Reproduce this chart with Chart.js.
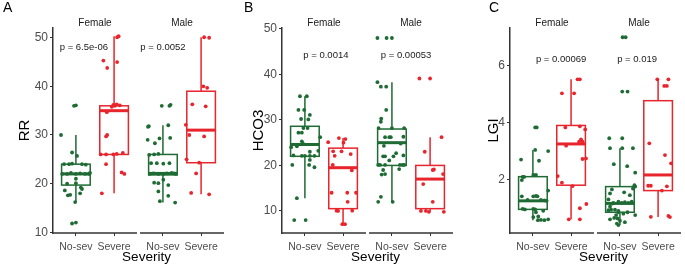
<!DOCTYPE html>
<html>
<head>
<meta charset="utf-8">
<script src="https://cdn.jsdelivr.net/npm/chart.js@4.4.0/dist/chart.umd.min.js"></script>
<style>
  html, body { margin: 0; padding: 0; background: #fff; }
  #fig { position: relative; width: 685px; height: 265px; }
  canvas { position: absolute; top: 0; }
</style>
</head>
<body>
<div id="fig">
  <canvas id="painelA" width="228" height="265" style="left:0px"></canvas>
  <canvas id="painelB" width="228" height="265" style="left:228px"></canvas>
  <canvas id="painelC" width="229" height="265" style="left:456px"></canvas>
</div>
<script>
// --- Dados ---
const categorias = ['No-sev', 'Severe', 'No-sev', 'Severe'];
const posicoesX = [1, 2, 3.28, 4.28];      // Female: 1,2 / Male: 3.28,4.28
const facetas = ['Female', 'Male'];

// Painel A - RR
const rrTicks = [10, 20, 30, 40, 50];
const rrFemNoSev = [36, 36.1, 30, 26.4, 25.7, 24, 24, 24.1, 24, 23.9, 22, 22, 22.2, 22, 22.1, 22, 22, 22.2, 21, 20, 20.1, 19.2, 18.9, 18.6, 17.7, 17.6, 18, 16.2, 11.8, 12];
const rrFemNoSevJit = [-0.05, 0.0, -0.39, -0.10, 0.03, -0.31, -0.18, -0.10, 0.16, 0.26, -0.36, -0.23, -0.13, 0.0, 0.11, 0.24, 0.34, 0.37, 0.0, -0.23, 0.0, 0.13, 0.16, -0.29, -0.15, -0.21, 0.11, -0.02, -0.10, 0.0];
const rrFemSev = [50.1, 50.3, 45.3, 45.0, 43.8, 36.2, 36, 36.3, 36.1, 35.8, 34.7, 30, 29.7, 26, 26, 26, 26.1, 26.3, 24, 22.3, 22, 18];
const rrFemSevJit = [0.08, 0.12, -0.28, 0.08, -0.18, -0.02, 0.02, 0.07, 0.15, -0.06, -0.19, -0.18, -0.21, -0.35, -0.21, -0.02, 0.07, 0.23, -0.21, 0.20, 0.27, -0.32];
const rrMascNoSev = [36, 36, 36.2, 32, 31.7, 31.8, 29.3, 29.4, 29, 28.3, 25.9, 26, 26.1, 24.2, 24.2, 24.1, 24.2, 22, 22.1, 22, 22, 22.1, 22.2, 22.1, 22, 20.2, 20.1, 20.8, 19.7, 18.4, 17.5, 16.4, 16.1];
const rrMascNoSevJit = [-0.03, 0.17, 0.20, 0.14, -0.39, -0.37, -0.09, 0.19, -0.40, -0.21, -0.36, -0.23, -0.12, -0.31, -0.16, 0.01, 0.17, -0.34, -0.25, -0.12, 0.01, 0.10, 0.23, 0.30, 0.34, -0.23, -0.12, 0.01, 0.14, -0.12, 0.14, -0.08, 0.32];
const rrMascSev = [50.1, 50, 40, 39.7, 36.3, 35.9, 32.1, 30, 29.7, 25, 24.3, 22.1, 18.1, 17.8];
const rrMascSevJit = [0.08, 0.21, 0.06, 0.16, -0.23, 0.12, -0.40, -0.31, 0.08, -0.38, -0.05, -0.13, -0.26, 0.21];
// [min bigode, Q1, mediana, Q3, max bigode]
const rrCaixas = [[16.2, 19.7, 22, 24, 30], [18, 26, 35, 36, 50.3], [16.1, 21.8, 22.1, 26, 32], [17.8, 24.3, 31, 39, 50.1]];
const rrP = ['p = 6.5e-06', 'p = 0.0052'];

// Painel B - HCO3
const hcoTicks = [10, 20, 30, 40, 50];
const hcoFemNoSev = [35.2, 35.2, 32.2, 32.2, 31.1, 30.1, 30.2, 27.2, 27.2, 28.2, 28.2, 26.2, 25.3, 24, 24.2, 24.8, 23.2, 23, 22.2, 22.1, 22.1, 22.1, 22.1, 21.2, 20.1, 20.1, 19.6, 12.8, 8, 8];
const hcoFemNoSevJit = [-0.13, 0.05, -0.17, -0.02, 0.13, 0.09, -0.10, -0.17, -0.08, -0.04, 0.07, 0.40, -0.08, -0.36, -0.21, -0.05, 0.35, 0.13, -0.30, -0.08, 0.0, 0.13, 0.25, 0.13, 0.11, -0.33, 0.25, -0.21, -0.28, 0.02];
const hcoFemSev = [25.1, 26, 25, 25.8, 23.1, 23.1, 22.1, 22.5, 20.1, 18.9, 14, 14, 14, 12, 10.05, 10, 10.05, 7.1, 7.1];
const hcoFemSevJit = [-0.39, -0.11, 0.01, 0.06, -0.26, -0.04, -0.22, 0.20, -0.27, 0.23, -0.30, 0.11, 0.34, 0.12, -0.17, -0.13, 0.24, -0.02, 0.05];
const hcoMascNoSev = [48, 48, 48, 38.3, 37.3, 37.3, 32.2, 30.3, 29.6, 28.2, 28.2, 28.2, 26.2, 26.2, 26.2, 26.3, 24.3, 24.8, 22.7, 22, 22, 22, 22.2, 21.1, 20.1, 20.1, 20.1, 20.1, 20.1, 20.1, 19, 18.1, 18, 19.2, 13.1, 12, 12];
const hcoMascNoSevJit = [-0.38, -0.14, 0.0, -0.38, -0.29, -0.15, -0.15, -0.28, -0.29, -0.35, 0.0, 0.32, -0.18, -0.07, -0.03, 0.30, -0.21, 0.23, 0.11, -0.23, -0.18, 0.04, 0.30, -0.07, -0.36, -0.31, -0.18, 0.21, 0.28, 0.32, -0.23, -0.18, -0.27, 0.19, -0.29, -0.36, 0.02];
const hcoMascSev = [39.1, 39.1, 26.2, 23, 19, 19.1, 18.1, 15.9, 12, 10, 10, 9.8, 9.8];
const hcoMascSevJit = [-0.28, 0.0, 0.30, -0.14, 0.07, 0.10, 0.34, -0.18, 0.07, -0.24, -0.11, -0.03, 0.36];
const hcoCaixas = [[12.8, 22, 24.6, 28.6, 35.2], [7.1, 10.5, 19.5, 23.8, 26], [12, 20, 25, 28, 38.3], [9.8, 10.5, 17, 20, 26.2]];
const hcoP = ['p = 0.0014', 'p = 0.00053'];

// Painel C - LGI
const lgiTicks = [2, 4, 6];
const lgiFemNoSev = [3.83, 3.83, 2.7, 3.04, 3.0, 2.66, 2.16, 2.16, 2.09, 2.09, 1.98, 1.61, 1.41, 1.42, 1.41, 1.41, 1.28, 1.28, 1.27, 1.25, 0.97, 0.95, 0.97, 0.95, 0.85, 0.9, 0.7, 0.68, 0.58, 0.57, 0.6, 0.57];
const lgiFemNoSevJit = [0.06, 0.10, -0.31, 0.06, 0.40, 0.16, 0.01, 0.08, -0.27, -0.23, -0.29, 0.40, -0.29, 0.08, 0.12, 0.01, -0.14, 0.21, 0.30, 0.36, -0.27, -0.21, 0.01, 0.06, 0.08, 0.27, 0.14, 0.01, 0.21, 0.30, 0.40, 0.13];
const lgiFemSev = [5.52, 5.52, 5.03, 5.03, 3.83, 3.87, 3.76, 3.41, 3.33, 3.33, 3.19, 2.72, 2.74, 2.12, 1.89, 1.77, 1.14, 0.99, 0.6, 0.6];
const lgiFemSevJit = [0.17, 0.23, -0.24, 0.08, -0.15, 0.23, 0.37, 0.26, 0.21, 0.30, -0.13, 0.30, 0.39, -0.35, -0.24, 0.04, 0.40, 0.23, -0.06, 0.23];
const lgiMascNoSev = [7.0, 7.0, 5.09, 5.09, 3.45, 3.45, 3.1, 3.1, 3.1, 2.54, 2.47, 2.24, 1.8, 1.75, 1.68, 1.51, 1.22, 1.18, 1.2, 1.18, 1.22, 1.18, 1.15, 1.3, 1.05, 0.94, 0.94, 0.9, 0.92, 0.85, 0.8, 0.85, 0.65, 0.63, 0.75, 0.6, 0.55, 0.5, 0.45, 0.4, 1.45, 1.65, 1.55, 0.75];
const lgiMascNoSevJit = [0.07, 0.15, 0.06, 0.20, -0.28, 0.06, -0.26, 0.06, 0.34, -0.16, 0.19, 0.40, 0.38, 0.40, 0.34, -0.26, -0.04, 0.05, 0.13, 0.22, 0.31, -0.17, -0.21, -0.30, -0.26, -0.23, -0.13, -0.04, -0.30, -0.04, 0.09, 0.20, -0.15, -0.06, 0.40, -0.26, 0.0, 0.13, -0.08, -0.04, 0.26, -0.21, 0.11, -0.10];
const lgiMascSev = [5.52, 5.52, 5.29, 5.29, 3.27, 2.86, 2.57, 1.78, 1.78, 1.76, 1.61, 0.69, 0.72, 0.68];
const lgiMascSevJit = [-0.02, 0.27, 0.16, 0.23, -0.23, 0.18, 0.34, -0.26, -0.19, 0.23, 0.10, -0.19, 0.27, 0.31];
const lgiCaixas = [[0.57, 0.95, 1.25, 2.1, 3.04], [0.6, 1.8, 3.25, 3.9, 5.52], [0.4, 0.85, 1.16, 1.75, 3.1], [0.68, 1.61, 2.16, 4.77, 5.52]];
const lgiP = ['p = 0.00069', 'p = 0.019'];

// --- Estilo ---
const fonte = '"Liberation Sans", Arial, Helvetica, sans-serif';
const cores = ['#1e6b34', '#e8242c'];
Chart.defaults.font.family = fonte;

function criarPainel(id, p) {
    const ctx = document.getElementById(id).getContext('2d');

    // Pontos com jitter (um dataset por grupo)
    const datasets = p.grupos.map((g, i) => ({
        data: g[0].map((v, j) => ({ x: posicoesX[i] + g[1][j], y: v })),
        pointRadius: 1.9,
        pointBackgroundColor: cores[i % 2],
        pointBorderWidth: 0,
        pointHoverRadius: 1.9
    }));

    // Plugin que desenha caixas, facetas, rótulos e valores de p
    const pluginPainel = {
        id: 'painel' + id,
        beforeDatasetsDraw(chart) {
            const c = chart.ctx;
            const xs = chart.scales.x, ys = chart.scales.y;
            p.caixas.forEach((b, i) => {
                const cx = xs.getPixelForValue(posicoesX[i]);
                const x0 = xs.getPixelForValue(posicoesX[i] - 0.375);
                const x1 = xs.getPixelForValue(posicoesX[i] + 0.375);
                const [lo, q1, md, q3, hi] = b.map(v => ys.getPixelForValue(v));
                c.save();
                c.strokeStyle = cores[i % 2];
                c.lineWidth = 1.5;
                c.beginPath();
                c.moveTo(cx, q3); c.lineTo(cx, hi);
                c.moveTo(cx, q1); c.lineTo(cx, lo);
                c.stroke();
                c.fillStyle = '#fff';
                c.fillRect(x0, q3, x1 - x0, q1 - q3);
                c.strokeRect(x0, q3, x1 - x0, q1 - q3);
                c.lineWidth = 3;
                c.beginPath();
                c.moveTo(x0, md); c.lineTo(x1, md);
                c.stroke();
                c.restore();
            });
        },
        afterDraw(chart) {
            const c = chart.ctx;
            const xs = chart.scales.x, ys = chart.scales.y;
            const area = chart.chartArea;
            c.save();
            // eixo x separado por faceta
            c.strokeStyle = '#333';
            c.lineWidth = 1.5;
            [[0.4, 2.6], [2.68, 4.88]].forEach(([a, b]) => {
                c.beginPath();
                c.moveTo(xs.getPixelForValue(a), area.bottom);
                c.lineTo(xs.getPixelForValue(b), area.bottom);
                c.stroke();
            });
            // rótulos das facetas
            c.fillStyle = '#1a1a1a';
            c.textAlign = 'center';
            c.textBaseline = 'middle';
            c.font = '10px ' + fonte;
            facetas.forEach((f, i) => {
                c.fillText(f, xs.getPixelForValue([1.5, 3.78][i]), 23);
            });
            // valores de p
            c.font = '9.5px ' + fonte;
            p.pvalores.forEach((t, i) => {
                c.fillText(t, xs.getPixelForValue(p.posP[i]), ys.getPixelForValue(p.yP));
            });
            // título do eixo x
            c.fillStyle = '#000';
            c.font = '13.5px ' + fonte;
            c.fillText('Severity', (area.left + area.right) / 2 + 8, 257.5);
            // letra do painel
            c.textAlign = 'left';
            c.textBaseline = 'top';
            c.font = '14px ' + fonte;
            c.fillText(p.letra, p.xLetra, 1);
            c.restore();
        }
    };

    return new Chart(ctx, {
        type: 'scatter',
        data: { datasets },
        options: {
            responsive: false,
            animation: false,
            devicePixelRatio: 1,
            layout: { padding: { left: 0, right: p.direita, top: 28, bottom: 0 } },
            plugins: { legend: { display: false }, tooltip: { enabled: false } },
            scales: {
                x: {
                    type: 'linear',
                    min: 0.4,
                    max: 4.88,
                    afterBuildTicks: s => { s.ticks = posicoesX.map(v => ({ value: v })); },
                    afterFit: s => { s.height = 32; },
                    grid: { drawOnChartArea: false, drawTicks: true, tickLength: 3, color: '#333' },
                    border: { display: false },
                    ticks: {
                        callback: (v, i) => categorias[i],
                        autoSkip: false, maxRotation: 0, padding: 5,
                        color: '#4d4d4d', font: { size: 10.5 }
                    }
                },
                y: {
                    type: 'linear',
                    min: p.yMin,
                    max: p.yMax,
                    afterBuildTicks: s => { s.ticks = p.ticks.map(v => ({ value: v })); },
                    afterFit: s => { s.width = p.larguraY; },
                    grid: { drawOnChartArea: false, drawTicks: true, tickLength: 3, color: '#333' },
                    border: { display: true, color: '#333', width: 1.5 },
                    ticks: { color: '#4d4d4d', font: { size: 12 }, padding: 2 },
                    title: {
                        display: true, text: p.titulo, color: '#000',
                        font: { size: 15 }, padding: { top: p.padTitulo, bottom: 0 }
                    }
                }
            }
        },
        plugins: [pluginPainel]
    });
}

criarPainel('painelA', {
    grupos: [[rrFemNoSev, rrFemNoSevJit], [rrFemSev, rrFemSevJit], [rrMascNoSev, rrMascNoSevJit], [rrMascSev, rrMascSevJit]],
    caixas: rrCaixas, ticks: rrTicks, pvalores: rrP,
    posP: [1.21, 3.28], yP: 47.95,
    yMin: 9.85, yMax: 52, titulo: 'RR', letra: 'A', xLetra: 3,
    larguraY: 53, direita: 4, padTitulo: 16
});

criarPainel('painelB', {
    grupos: [[hcoFemNoSev, hcoFemNoSevJit], [hcoFemSev, hcoFemSevJit], [hcoMascNoSev, hcoMascNoSevJit], [hcoMascSev, hcoMascSevJit]],
    caixas: hcoCaixas, ticks: hcoTicks, pvalores: hcoP,
    posP: [1.55, 3.65], yP: 44.1,
    yMin: 5.15, yMax: 50.2, titulo: 'HCO3', letra: 'B', xLetra: 16,
    larguraY: 54, direita: 3, padTitulo: 22
});

criarPainel('painelC', {
    grupos: [[lgiFemNoSev, lgiFemNoSevJit], [lgiFemSev, lgiFemSevJit], [lgiMascNoSev, lgiMascNoSevJit], [lgiMascSev, lgiMascSevJit]],
    caixas: lgiCaixas, ticks: lgiTicks, pvalores: lgiP,
    posP: [1.74, 3.73], yP: 6.23,
    yMin: 0.12, yMax: 7.325, titulo: 'LGI', letra: 'C', xLetra: 33,
    larguraY: 54, direita: 4, padTitulo: 29
});
</script>
</body>
</html>
